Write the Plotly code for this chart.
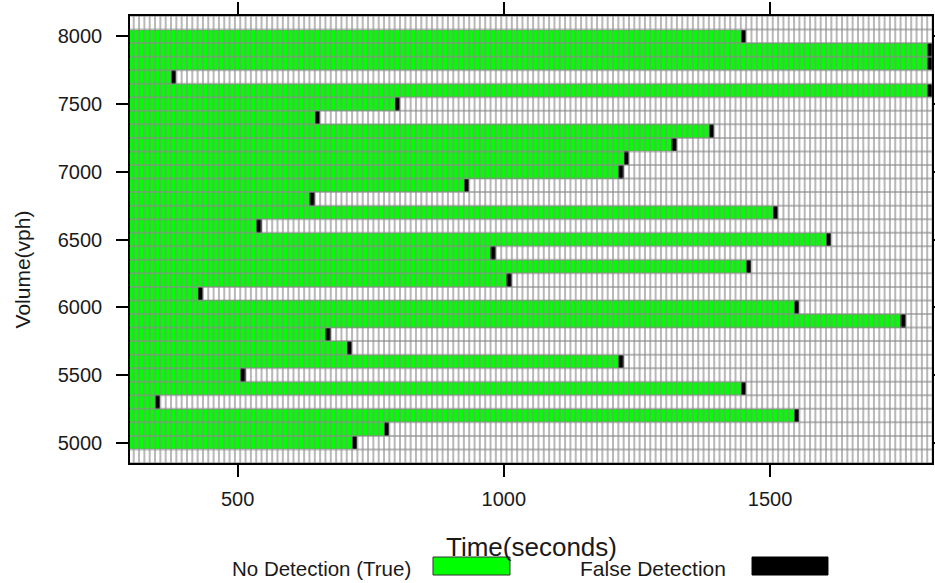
import plotly.graph_objects as go

# ---- data -------------------------------------------------------------
volumes = [8000, 7900, 7800, 7700, 7600, 7500, 7400, 7300, 7200, 7100, 7000,
           6900, 6800, 6700, 6600, 6500, 6400, 6300, 6200, 6100, 6000,
           5900, 5800, 5700, 5600, 5500, 5400, 5300, 5200, 5100, 5000]
false_detection_time = [1450, 1800, 1800, 380, 1800, 800, 650, 1390, 1320, 1230, 1220,
                        930, 640, 1510, 540, 1610, 980, 1460, 1010, 430, 1550,
                        1750, 670, 710, 1220, 510, 1450, 350, 1550, 780, 720]
time_start, time_end, time_step = 300, 1800, 10
vol_min, vol_max, vol_step = 4900, 8100, 100
x_ticks = [500, 1000, 1500]
y_ticks = [5000, 5500, 6000, 6500, 7000, 7500, 8000]

# ---- build grid -------------------------------------------------------
times = list(range(time_start, time_end + 1, time_step))
rows = list(range(vol_min, vol_max + 1, vol_step))
det = dict(zip(volumes, false_detection_time))
z = []
for v in rows:
    r = []
    for t in times:
        if v not in det:
            r.append(0)
        elif t < det[v]:
            r.append(1)
        elif t == det[v]:
            r.append(2)
        else:
            r.append(0)
    z.append(r)

GREEN = "#00ff00"
fig = go.Figure()
fig.add_trace(go.Heatmap(
    x=times, y=rows, z=z, zmin=0, zmax=2,
    colorscale=[[0, "white"], [0.333, "white"], [0.333, GREEN], [0.667, GREEN],
                [0.667, "black"], [1, "black"]],
    showscale=False, hoverinfo="skip"))

# cell borders
gx, gy = [], []
x_lo, x_hi = time_start - time_step / 2, time_end + time_step / 2
y_lo, y_hi = vol_min - vol_step / 2, vol_max + vol_step / 2
for k in range(len(times) + 1):
    xv = x_lo + k * time_step
    gx += [xv, xv, None]
    gy += [y_lo, y_hi, None]
for j in range(len(rows) + 1):
    yv = y_lo + j * vol_step
    gx += [x_lo, x_hi, None]
    gy += [yv, yv, None]
fig.add_trace(go.Scatter(x=gx, y=gy, mode="lines",
                         line=dict(color="rgba(140,140,140,0.62)", width=2),
                         hoverinfo="skip", showlegend=False))

FONT = "Liberation Sans, Arial"
TXT = "#1a1a1a"
fig.update_layout(
    width=935, height=583,
    margin=dict(l=130, r=3, t=16, b=120),
    paper_bgcolor="white", plot_bgcolor="white",
    showlegend=False,
    font=dict(family=FONT, color=TXT, size=20),
    xaxis=dict(range=[298, 1804], tickvals=x_ticks, ticks="outside", ticklen=12,
               tickwidth=1.5, tickcolor="black", showline=True, linecolor="black",
               linewidth=1.5, mirror="ticks", showgrid=False, zeroline=False,
               automargin=False,
               tickfont=dict(size=20, family=FONT, color=TXT), ticklabelstandoff=5),
    yaxis=dict(range=[y_lo, y_hi], tickvals=y_ticks, ticks="outside", ticklen=12,
               tickwidth=1.5, tickcolor="black", showline=True, linecolor="black",
               linewidth=1.5, mirror="ticks", showgrid=False, zeroline=False,
               automargin=False,
               tickfont=dict(size=20, family=FONT, color=TXT), ticklabelstandoff=10),
)

fig.add_annotation(text="Time(seconds)", xref="paper", yref="paper", x=0.5012, y=-0.188,
                   showarrow=False, font=dict(size=26, family=FONT, color=TXT),
                   xanchor="center", yanchor="middle")
fig.add_annotation(text="Volume(vph)", xref="paper", yref="paper", x=-0.134, y=0.432,
                   showarrow=False, textangle=-90, font=dict(size=21, family=FONT, color=TXT),
                   xanchor="center", yanchor="middle")
fig.add_annotation(text="No Detection (True)", xref="paper", yref="paper", x=0.2394, y=-0.2349,
                   showarrow=False, font=dict(size=20.5, family=FONT, color=TXT),
                   xanchor="center", yanchor="middle")
fig.add_annotation(text="False Detection", xref="paper", yref="paper", x=0.6521, y=-0.2349,
                   showarrow=False, font=dict(size=21, family=FONT, color=TXT),
                   xanchor="center", yanchor="middle")
fig.add_shape(type="rect", xref="paper", yref="paper", x0=0.3778, x1=0.4738,
              y0=-0.2506, y1=-0.2103, fillcolor=GREEN, line=dict(color="#333", width=1))
fig.add_shape(type="rect", xref="paper", yref="paper", x0=0.7756, x1=0.8703,
              y0=-0.2506, y1=-0.2103, fillcolor="black", line=dict(color="black", width=1))

fig.write_html("out.html")
